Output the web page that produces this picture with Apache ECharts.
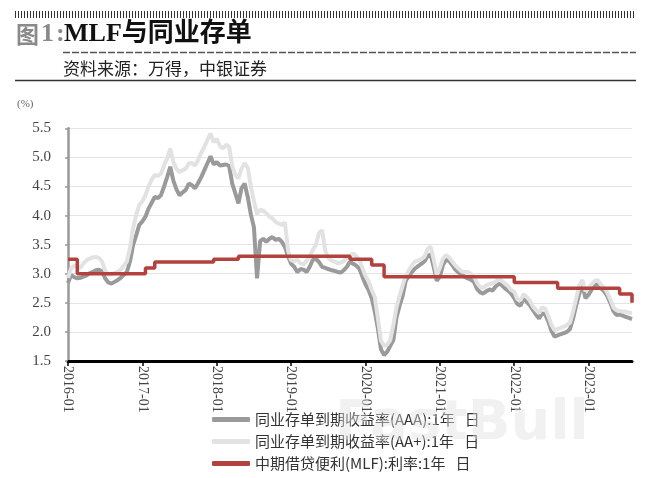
<!DOCTYPE html>
<html>
<head>
<meta charset="utf-8">
<script src="https://cdn.jsdelivr.net/npm/echarts@6/dist/echarts.min.js"></script>
<style>html,body{margin:0;padding:0;background:#fff;}#c{width:650px;height:478px;}</style>
</head>
<body>
<div id="c"></div>
<script>
// semi-monthly observations, first point 2016-01-01
const startYear = 2016;
const pointCount = 183;
const yearTickLabels = ['2016-01','2017-01','2018-01','2019-01','2020-01','2021-01','2022-01','2023-01'];
const seriesNames = ['同业存单到期收益率(AAA):1年   日','同业存单到期收益率(AA+):1年   日','中期借贷便利(MLF):利率:1年   日'];

const ncdAAA = [
2.84,2.98,2.94,2.92,2.93,2.95,2.97,3.01,3.03,3.06,3.07,3.04,2.92,2.85,2.83,2.86,2.89,2.93,2.98,3.03,
3.21,3.49,3.66,3.84,3.90,3.98,4.12,4.22,4.32,4.30,4.35,4.50,4.66,4.84,4.60,4.45,4.35,4.40,4.44,4.55,
4.52,4.47,4.56,4.66,4.78,4.90,5.02,4.88,4.92,4.86,4.87,4.88,4.85,4.55,4.38,4.21,4.47,4.55,4.32,4.02,
3.80,2.92,3.56,3.60,3.55,3.60,3.63,3.58,3.60,3.55,3.46,3.30,3.17,3.12,3.03,3.08,3.07,3.03,3.12,3.24,
3.26,3.20,3.12,3.10,3.08,3.06,3.05,3.03,3.02,3.06,3.12,3.21,3.17,3.14,3.09,2.95,2.82,2.72,2.58,2.35,
2.06,1.70,1.60,1.66,1.76,1.86,2.25,2.45,2.62,2.88,2.96,3.03,3.09,3.13,3.17,3.21,3.30,3.33,3.12,2.88,
2.95,3.15,3.24,3.22,3.15,3.07,3.02,2.99,2.95,2.92,2.90,2.86,2.74,2.68,2.66,2.70,2.73,2.71,2.78,2.83,
2.80,2.75,2.71,2.66,2.58,2.48,2.45,2.57,2.52,2.46,2.38,2.30,2.23,2.32,2.30,2.18,2.02,1.92,1.94,1.96,
1.98,2.00,2.05,2.23,2.46,2.66,2.80,2.58,2.64,2.73,2.80,2.82,2.75,2.70,2.62,2.50,2.36,2.29,2.30,2.28,
2.26,2.24,2.22
];

const ncdAAplus = [
2.93,3.09,3.14,3.12,3.10,3.18,3.23,3.26,3.28,3.29,3.27,3.21,3.05,2.98,2.99,3.01,3.03,3.07,3.14,3.21,
3.44,3.78,4.01,4.18,4.25,4.35,4.50,4.62,4.70,4.68,4.72,4.86,4.98,5.15,4.92,4.80,4.75,4.78,4.81,4.90,
4.90,4.86,4.96,5.08,5.18,5.30,5.41,5.26,5.32,5.20,5.15,5.22,5.18,4.85,4.70,4.64,4.81,4.90,4.82,4.50,
4.25,4.02,4.10,4.08,4.04,3.98,3.95,3.89,3.86,3.84,3.88,3.40,3.23,3.22,3.24,3.18,3.16,3.22,3.30,3.41,
3.50,3.70,3.75,3.40,3.27,3.23,3.21,3.18,3.19,3.22,3.28,3.30,3.35,3.30,3.24,3.10,2.96,2.87,2.72,2.60,
2.23,1.85,1.76,1.78,1.86,2.12,2.42,2.62,2.80,2.97,3.06,3.15,3.21,3.23,3.25,3.29,3.42,3.47,3.25,2.98,
3.10,3.26,3.32,3.28,3.21,3.14,3.09,3.04,3.03,3.03,3.00,2.96,2.84,2.77,2.76,2.80,2.82,2.84,2.86,2.91,
2.88,2.83,2.79,2.72,2.69,2.56,2.54,2.65,2.60,2.54,2.44,2.38,2.32,2.42,2.40,2.27,2.12,2.03,2.05,2.07,
2.09,2.12,2.16,2.35,2.58,2.80,2.89,2.70,2.76,2.82,2.88,2.89,2.81,2.76,2.68,2.56,2.42,2.37,2.36,2.35,
2.35,2.33,2.32
];

const mlfRate = [
3.25,3.25,3.25,3.00,3.00,3.00,3.00,3.00,3.00,3.00,3.00,3.00,3.00,3.00,3.00,3.00,3.00,3.00,3.00,3.00,
3.00,3.00,3.00,3.00,3.00,3.10,3.10,3.10,3.20,3.20,3.20,3.20,3.20,3.20,3.20,3.20,3.20,3.20,3.20,3.20,
3.20,3.20,3.20,3.20,3.20,3.20,3.20,3.25,3.25,3.25,3.25,3.25,3.25,3.25,3.25,3.30,3.30,3.30,3.30,3.30,
3.30,3.30,3.30,3.30,3.30,3.30,3.30,3.30,3.30,3.30,3.30,3.30,3.30,3.30,3.30,3.30,3.30,3.30,3.30,3.30,
3.30,3.30,3.30,3.30,3.30,3.30,3.30,3.30,3.30,3.30,3.30,3.25,3.25,3.25,3.25,3.25,3.25,3.25,3.15,3.15,
3.15,3.15,2.95,2.95,2.95,2.95,2.95,2.95,2.95,2.95,2.95,2.95,2.95,2.95,2.95,2.95,2.95,2.95,2.95,2.95,
2.95,2.95,2.95,2.95,2.95,2.95,2.95,2.95,2.95,2.95,2.95,2.95,2.95,2.95,2.95,2.95,2.95,2.95,2.95,2.95,
2.95,2.95,2.95,2.95,2.85,2.85,2.85,2.85,2.85,2.85,2.85,2.85,2.85,2.85,2.85,2.85,2.85,2.85,2.75,2.75,
2.75,2.75,2.75,2.75,2.75,2.75,2.75,2.75,2.75,2.75,2.75,2.75,2.75,2.75,2.75,2.75,2.75,2.75,2.65,2.65,
2.65,2.65,2.50
];

const categories = [];
for (let i = 0; i < pointCount; i++) {
  const y = startYear + Math.floor(i / 24);
  const m = Math.floor((i % 24) / 2) + 1;
  categories.push(y + '-' + (m < 10 ? '0' + m : m) + (i % 2 ? '-16' : '-01'));
}

const serif = '"Liberation Serif","Times New Roman","Noto Sans CJK SC",serif';
const cjk = '"Noto Sans CJK SC","Noto Sans",sans-serif';

const chart = echarts.init(document.getElementById('c'), null, {renderer: 'canvas'});
chart.setOption({
  animation: false,
  backgroundColor: '#fff',
  grid: {left: 68, right: 18, top: 128.3, bottom: 117},
  legend: {
    orient: 'vertical', left: 207, top: 407, z: 5,
    icon: 'roundRect', itemWidth: 38, itemHeight: 5, itemGap: 7,
    textStyle: {fontFamily: cjk, fontSize: 15, color: '#333', lineHeight: 15},
    data: seriesNames
  },
  xAxis: {
    type: 'category', data: categories, boundaryGap: false,
    axisLine: {lineStyle: {color: '#000', width: 3}},
    axisTick: {show: true, length: 5, lineStyle: {color: '#000', width: 1.5},
      interval: function (idx) { return idx % 24 === 0; }},
    axisLabel: {
      rotate: -90, margin: 5,
      interval: function (idx) { return idx % 24 === 0; },
      formatter: function (v, idx) { return yearTickLabels[Math.floor(idx / 24)] || v.slice(0, 7); },
      fontFamily: serif, fontSize: 14, color: '#444'
    },
    splitLine: {show: false}
  },
  yAxis: {
    type: 'value', min: 1.5, max: 5.5, interval: 0.5,
    axisLine: {show: true, lineStyle: {color: '#999', width: 2.5}},
    axisTick: {show: true, length: 3, lineStyle: {color: '#999', width: 1.5}},
    axisLabel: {formatter: function (v) { return v.toFixed(1); }, fontFamily: serif, fontSize: 15, color: '#444', margin: 17},
    splitLine: {lineStyle: {color: '#e4e4e4', width: 1.2}}
  },
  graphic: [
    {type: 'line', shape: {x1: 15, y1: 14.5, x2: 636, y2: 14.5}, style: {stroke: '#333', lineWidth: 7, lineDash: [1, 2]}},
    {type: 'text', left: 16, top: 23, style: {text: '图', font: 'bold 23px ' + cjk, fill: '#8a8a8a'}},
    {type: 'text', left: 41, top: 21, style: {text: '1', font: 'bold 26px ' + serif, fill: '#8a8a8a'}},
    {type: 'text', left: 56, top: 21, style: {text: ':', font: 'bold 26px ' + serif, fill: '#8a8a8a'}},
    {type: 'text', left: 64, top: 21, style: {text: 'MLF与同业存单', font: 'bold 26px ' + serif, fill: '#111'}},
    {type: 'line', shape: {x1: 63, y1: 52.5, x2: 636, y2: 52.5}, style: {stroke: '#555', lineWidth: 1.5, lineDash: [7, 2]}},
    {type: 'text', left: 63, top: 60, style: {text: '资料来源：万得，中银证券', font: '17px ' + cjk, fill: '#222'}},
    {type: 'line', shape: {x1: 15, y1: 80.5, x2: 636, y2: 80.5}, style: {stroke: '#333', lineWidth: 1.5}},
    {type: 'text', left: 17, top: 99, style: {text: '(%)', font: '11px ' + serif, fill: '#666'}},
    {type: 'text', left: 335, top: 396, z: 10, style: {text: 'FastBull', font: 'bold 56px "DejaVu Sans",sans-serif', fill: 'rgba(225,225,225,0.45)'}}
  ],
  series: [
    {name: seriesNames[0], type: 'line', data: ncdAAA, symbol: 'none', showSymbol: false,
      lineStyle: {color: '#9a9a9a', width: 4}, itemStyle: {color: '#9a9a9a'}, z: 2},
    {name: seriesNames[1], type: 'line', data: ncdAAplus, symbol: 'none', showSymbol: false,
      lineStyle: {color: '#e2e2e2', width: 4}, itemStyle: {color: '#e2e2e2'}, z: 3},
    {name: seriesNames[2], type: 'line', data: mlfRate, step: 'end', symbol: 'none', showSymbol: false,
      lineStyle: {color: '#b1423e', width: 3.5}, itemStyle: {color: '#b1423e'}, z: 4}
  ]
});
</script>
</body>
</html>
